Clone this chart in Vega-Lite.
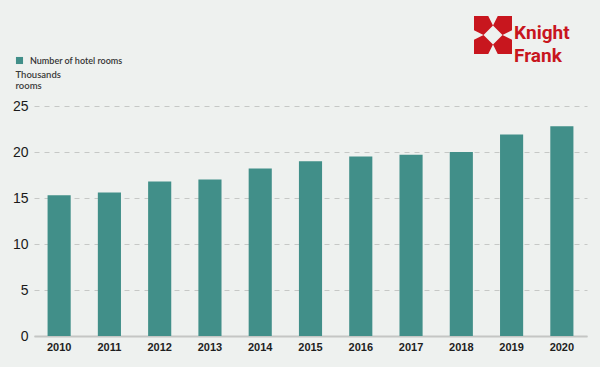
{
  "$schema": "https://vega.github.io/schema/vega-lite/v6.json",
  "width": 553,
  "height": 230,
  "autosize": {"type": "none"},
  "padding": {"left": 34, "top": 106, "right": 13, "bottom": 31},
  "background": "#eef1ef",
  "config": {
    "view": {"stroke": null},
    "font": "Lato"
  },
  "data": {
    "values": [
      {"year": "2010", "rooms": 15.3, "series": "Number of hotel rooms"},
      {"year": "2011", "rooms": 15.6, "series": "Number of hotel rooms"},
      {"year": "2012", "rooms": 16.8, "series": "Number of hotel rooms"},
      {"year": "2013", "rooms": 17.0, "series": "Number of hotel rooms"},
      {"year": "2014", "rooms": 18.2, "series": "Number of hotel rooms"},
      {"year": "2015", "rooms": 19.0, "series": "Number of hotel rooms"},
      {"year": "2016", "rooms": 19.5, "series": "Number of hotel rooms"},
      {"year": "2017", "rooms": 19.7, "series": "Number of hotel rooms"},
      {"year": "2018", "rooms": 20.0, "series": "Number of hotel rooms"},
      {"year": "2019", "rooms": 21.9, "series": "Number of hotel rooms"},
      {"year": "2020", "rooms": 22.8, "series": "Number of hotel rooms"}
    ]
  },
  "encoding": {
    "x": {
      "field": "year",
      "type": "nominal",
      "scale": {"paddingInner": 0.54, "paddingOuter": 0.27},
      "axis": {
        "title": null,
        "labelAngle": 0,
        "labelFont": "Liberation Sans",
        "labelFontSize": 11,
        "labelFontWeight": "bold",
        "labelColor": "#1e1e1e",
        "labelPadding": 5,
        "ticks": false,
        "domainColor": "#c4c6c4",
        "domainWidth": 2,
        "grid": false
      }
    },
    "y": {
      "field": "rooms",
      "type": "quantitative",
      "scale": {"domain": [0, 25], "nice": false},
      "axis": {
        "values": [0, 5, 10, 15, 20, 25],
        "title": ["Thousands", "rooms"],
        "titleAngle": 0,
        "titleAlign": "left",
        "titleBaseline": "top",
        "titleX": -19,
        "titleY": -37,
        "titleFont": "Lato",
        "titleFontSize": 9.5,
        "titleFontWeight": 600,
        "titleColor": "#3a3a3a",
        "titleLineHeight": 11,
        "labelFont": "Liberation Sans",
        "labelFontSize": 14,
        "labelColor": "#1a1a1a",
        "labelPadding": 6,
        "ticks": false,
        "domain": false,
        "grid": true,
        "gridColor": "#c6c8c6",
        "gridDash": [5, 5],
        "gridWidth": 1
      }
    }
  },
  "layer": [
    {
      "mark": {"type": "bar", "color": "#418f89"},
      "encoding": {
        "color": {
          "field": "series",
          "type": "nominal",
          "scale": {"range": ["#418f89"]},
          "legend": {
            "orient": "none",
            "legendX": -19,
            "legendY": -50,
            "title": null,
            "symbolType": "square",
            "symbolSize": 50,
            "symbolStrokeWidth": 0,
            "labelFont": "Lato",
            "labelFontSize": 9,
            "labelColor": "#333333",
            "labelFontWeight": 600,
            "padding": 0,
            "labelOffset": 6
          }
        }
      }
    },
    {
      "mark": {"type": "point", "filled": true, "opacity": 0, "color": "#c8161e"},
      "encoding": {
        "shape": {
          "datum": "logo",
          "scale": {"range": ["M-1,-1L-0.25,-1L0,-0.5L-0.5,0L-1,-0.25Z M1,-1L1,-0.25L0.5,0L0,-0.5L0.25,-1Z M1,1L0.25,1L0,0.5L0.5,0L1,0.25Z M-1,1L-1,0.25L-0.5,0L0,0.5L-0.25,1Z"]},
          "legend": {
            "orient": "none",
            "legendX": 440,
            "legendY": -90,
            "title": ["Knight", "Frank"],
            "titleOrient": "right",
            "titleFont": "Liberation Sans Narrow, Roboto",
            "titleFontSize": 19,
            "titleFontWeight": "bold",
            "titleColor": "#c8161e",
            "titleLineHeight": 23,
            "titleBaseline": "top",
            "titlePadding": 2,
            "padding": 0,
            "symbolSize": 1444,
            "symbolFillColor": "#c8161e",
            "symbolStrokeWidth": 0,
            "symbolOpacity": 1,
            "labelExpr": "''",
            "labelOffset": 0,
            "encode": {"symbols": {"update": {"opacity": {"value": 1}, "fill": {"value": "#c8161e"}}}}
          }
        }
      }
    }
  ]
}
